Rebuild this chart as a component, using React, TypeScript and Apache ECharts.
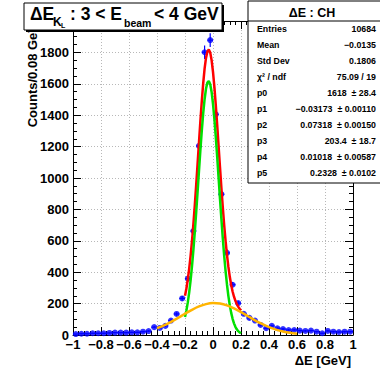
import React, { useEffect, useRef } from 'react';
import * as echarts from 'echarts';

const binCenters = [
  -0.98, -0.94, -0.9, -0.86, -0.82, -0.78, -0.74, -0.7, -0.66, -0.62,
  -0.58, -0.54, -0.5, -0.46, -0.42, -0.38, -0.34, -0.3, -0.26, -0.22,
  -0.18, -0.14, -0.1, -0.06, -0.02, 0.02, 0.06, 0.1, 0.14, 0.18,
  0.22, 0.26, 0.3, 0.34, 0.38, 0.42, 0.46, 0.5, 0.54, 0.58,
  0.62, 0.66, 0.7, 0.74, 0.78, 0.82, 0.86, 0.9, 0.94, 0.98,
];
const counts = [
  6, 8, 8, 11, 11, 11, 13, 15, 15, 15,
  17, 17, 21, 25, 50, 45, 58, 92, 134, 233,
  359, 662, 1204, 1801, 1878, 1405, 897, 523, 320, 203,
  135, 109, 92, 64, 43, 58, 43, 38, 32, 32,
  28, 26, 28, 21, 11, 26, 21, 19, 21, 21,
];

// fit curve samples
const curveX = [
  -0.2, -0.19, -0.18, -0.17, -0.16, -0.15, -0.14, -0.13, -0.12, -0.11,
  -0.1, -0.09, -0.08, -0.07, -0.06, -0.05, -0.04, -0.03, -0.02, -0.01,
  0, 0.01, 0.02, 0.03, 0.04, 0.05, 0.06, 0.07, 0.08, 0.09,
  0.1, 0.11, 0.12, 0.13, 0.14, 0.15, 0.16, 0.17, 0.18, 0.19, 0.2,
];
const totalFit = [
  250.3, 296.5, 353.5, 422.3, 503.9, 598.8, 706.7, 826.4, 955.7, 1091.1,
  1228.9, 1363.9, 1490.4, 1602.8, 1696.1, 1765.0, 1806.4, 1817.9, 1799.0, 1750.8,
  1676.0, 1578.6, 1463.5, 1336.3, 1202.5, 1067.7, 936.3, 812.5, 698.9, 597.5,
  509.0, 433.5, 370.6, 319.0, 277.2, 243.9, 217.7, 196.9, 180.5, 167.3, 156.7,
];
const signalFit = [
  115.0, 156.0, 207.8, 271.5, 348.2, 438.3, 541.5, 656.7, 781.7, 913.1,
  1047.1, 1178.5, 1301.7, 1411.1, 1501.7, 1568.3, 1607.7, 1617.5, 1597.3, 1548.2,
  1472.8, 1375.2, 1260.3, 1133.6, 1000.8, 867.3, 737.5, 615.7, 504.4, 405.7,
  320.2, 248.0, 188.6, 140.8, 103.1, 74.1, 52.3, 36.2, 24.6, 16.4, 10.8,
];
const bgX = [
  -0.4, -0.35, -0.3, -0.25, -0.2, -0.15, -0.1, -0.05, 0, 0.05, 0.1,
  0.15, 0.2, 0.25, 0.3, 0.35, 0.4, 0.45, 0.5, 0.55, 0.6,
];
const bgFit = [
  43.1, 61.5, 83.7, 108.9, 135.3, 160.5, 181.8, 196.7, 203.2, 200.4, 188.8,
  169.8, 145.9, 119.6, 93.7, 70.1, 50.1, 34.1, 22.2, 13.8, 8.2,
];

const statsLabels = ['Entries', 'Mean', 'Std Dev', 'χ² / ndf', 'p0', 'p1', 'p2', 'p3', 'p4', 'p5'];
const statsValues = [
  '10684',
  '−0.0135',
  '0.1806',
  '75.09 / 19',
  '1618  ± 28.4',
  '−0.03173  ± 0.00110',
  '0.07318  ± 0.00150',
  '203.4  ± 18.7',
  '0.01018  ± 0.00587',
  '0.2328  ± 0.0102',
];

const FONT = '"Liberation Sans", Arial, Helvetica, sans-serif';

export default function App() {
  const ref = useRef<HTMLDivElement>(null);
  useEffect(() => {
    const chart = echarts.init(ref.current!, null, { renderer: 'svg' });

    const points = binCenters.map((x, i) => [x, counts[i]]);
    const errs = binCenters.map((x, i) => [x, counts[i], Math.sqrt(counts[i])]);

    const fmtX = (v: number) => {
      const r = Math.round(v * 10) / 10;
      if (r === 0) return '0';
      return r < 0 ? '−' + String(-r) : String(r);
    };

    const axisCommon = {
      axisLine: { show: true, onZero: false, lineStyle: { color: '#000', width: 1 } },
      axisTick: { show: true, inside: true, length: 8, lineStyle: { color: '#000', width: 1 } },
    };

    const statsGraphics: any[] = [];
    statsLabels.forEach((lab, i) => {
      const y = 28.5 + 16.1 * i;
      statsGraphics.push({
        type: 'text', x: 257, y, z: 102,
        style: { text: lab, font: `bold 8.8px ${FONT}`, fill: '#000', align: 'left', verticalAlign: 'middle' },
      });
      statsGraphics.push({
        type: 'text', x: 376, y, z: 102,
        style: { text: statsValues[i], font: `bold 8.8px ${FONT}`, fill: '#000', align: 'right', verticalAlign: 'middle' },
      });
    });

    const option: any = {
      animation: false,
      backgroundColor: '#fff',
      grid: { left: 73, right: 27, top: 21, bottom: 34, containLabel: false },
      xAxis: [
        {
          type: 'value', min: -1, max: 1, interval: 0.2, position: 'bottom',
          ...axisCommon,
          minorTick: { show: true, splitNumber: 5, length: 4, lineStyle: { color: '#000' } },
          splitLine: { show: true, lineStyle: { color: '#b8b8b8', type: [1, 2], width: 1 } },
          axisLabel: { formatter: fmtX, fontSize: 13, fontWeight: 'bold', color: '#000', fontFamily: FONT, margin: 3 },
        },
        {
          type: 'value', min: -1, max: 1, interval: 0.2, position: 'top',
          ...axisCommon,
          minorTick: { show: true, splitNumber: 5, length: 4, lineStyle: { color: '#000' } },
          splitLine: { show: false },
          axisLabel: { show: false },
        },
      ],
      yAxis: [
        {
          type: 'value', min: 0, max: 2000, interval: 200, position: 'left',
          ...axisCommon,
          minorTick: { show: true, splitNumber: 4, length: 4, lineStyle: { color: '#000' } },
          splitLine: { show: true, lineStyle: { color: '#b8b8b8', type: [1, 2], width: 1 } },
          axisLabel: {
            formatter: (v: number) => (v >= 2000 ? '' : String(v)),
            fontSize: 13, fontWeight: 'bold', color: '#000', fontFamily: FONT, margin: 4,
          },
        },
        {
          type: 'value', min: 0, max: 2000, interval: 200, position: 'right',
          ...axisCommon,
          minorTick: { show: true, splitNumber: 4, length: 4, lineStyle: { color: '#000' } },
          splitLine: { show: false },
          axisLabel: { show: false },
        },
      ],
      series: [
        {
          type: 'custom',
          xAxisIndex: 0, yAxisIndex: 0,
          data: errs,
          clip: true,
          renderItem: (params: any, api: any) => {
            const x = api.value(0);
            const y = api.value(1);
            const e = api.value(2);
            const top = api.coord([x, y + e]);
            const bot = api.coord([x, Math.max(0, y - e)]);
            const l = api.coord([x - 0.02, y]);
            const r = api.coord([x + 0.02, y]);
            return {
              type: 'group',
              children: [
                { type: 'line', shape: { x1: top[0], y1: top[1], x2: bot[0], y2: bot[1] }, style: { stroke: '#0000ff', lineWidth: 1.2 } },
                { type: 'line', shape: { x1: l[0], y1: l[1], x2: r[0], y2: r[1] }, style: { stroke: '#0000ff', lineWidth: 1.2 } },
              ],
            };
          },
          z: 2,
        },
        {
          type: 'scatter', data: points, symbol: 'circle', symbolSize: 6,
          itemStyle: { color: '#0000ff' }, z: 3,
        },
        {
          type: 'line', data: curveX.map((x, i) => [x, totalFit[i]]), showSymbol: false,
          lineStyle: { color: '#ff0000', width: 2.5 }, z: 4, clip: true,
        },
        {
          type: 'line', data: curveX.map((x, i) => [x, signalFit[i]]), showSymbol: false,
          lineStyle: { color: '#00e000', width: 2.5 }, z: 5, clip: true,
        },
        {
          type: 'line', data: bgX.map((x, i) => [x, bgFit[i]]), showSymbol: false, smooth: 0.3,
          lineStyle: { color: '#ffb400', width: 2.5 }, z: 6, clip: true,
        },
      ],
      graphic: [
        {
          type: 'text', x: 32, y: 24, rotation: Math.PI / 2, z: 90,
          style: { text: 'Counts/0.08 GeV', font: `bold 13px ${FONT}`, fill: '#000', align: 'right', verticalAlign: 'middle' },
        },
        {
          type: 'text', x: 351, y: 360, z: 90,
          style: { text: 'ΔE [GeV]', font: `bold 13px ${FONT}`, fill: '#000', align: 'right', verticalAlign: 'middle' },
        },
        // title pave
        { type: 'rect', z: 100, shape: { x: 26, y: 5, width: 198, height: 27 }, style: { fill: '#000' } },
        { type: 'rect', z: 101, shape: { x: 24, y: 3, width: 198, height: 27 }, style: { fill: '#fff', stroke: '#000', lineWidth: 1 } },
        { type: 'text', x: 30, y: 13.7, z: 102, style: { text: 'ΔE', font: `bold 17.5px ${FONT}`, fill: '#000', align: 'left', verticalAlign: 'middle' } },
        { type: 'text', x: 53, y: 21.8, z: 102, style: { text: 'K', font: `bold 12px ${FONT}`, fill: '#000', align: 'left', verticalAlign: 'middle' } },
        { type: 'text', x: 61, y: 25.5, z: 102, style: { text: 'L', font: `bold 7px ${FONT}`, fill: '#000', align: 'left', verticalAlign: 'middle' } },
        { type: 'text', x: 70, y: 13.7, z: 102, style: { text: ': 3 < E', font: `bold 17.5px ${FONT}`, fill: '#000', align: 'left', verticalAlign: 'middle' } },
        { type: 'text', x: 124, y: 23.2, z: 102, style: { text: 'beam', font: `bold 10.5px ${FONT}`, fill: '#000', align: 'left', verticalAlign: 'middle' } },
        { type: 'text', x: 154, y: 13.7, z: 102, style: { text: '< 4 GeV', font: `bold 17.5px ${FONT}`, fill: '#000', align: 'left', verticalAlign: 'middle' } },
        // stats box
        { type: 'rect', z: 101, shape: { x: 248, y: 1, width: 140, height: 182 }, style: { fill: '#fff', stroke: '#000', lineWidth: 1 } },
        { type: 'line', z: 102, shape: { x1: 248, y1: 21, x2: 380, y2: 21 }, style: { stroke: '#000', lineWidth: 1 } },
        { type: 'text', x: 312, y: 12.6, z: 102, style: { text: 'ΔE : CH', font: `bold 12.5px ${FONT}`, fill: '#000', align: 'center', verticalAlign: 'middle' } },
        ...statsGraphics,
      ],
    };

    chart.setOption(option);
    return () => chart.dispose();
  }, []);

  return <div ref={ref} style={{ position: 'fixed', left: 0, top: 0, width: 380, height: 369 }} />;
}
